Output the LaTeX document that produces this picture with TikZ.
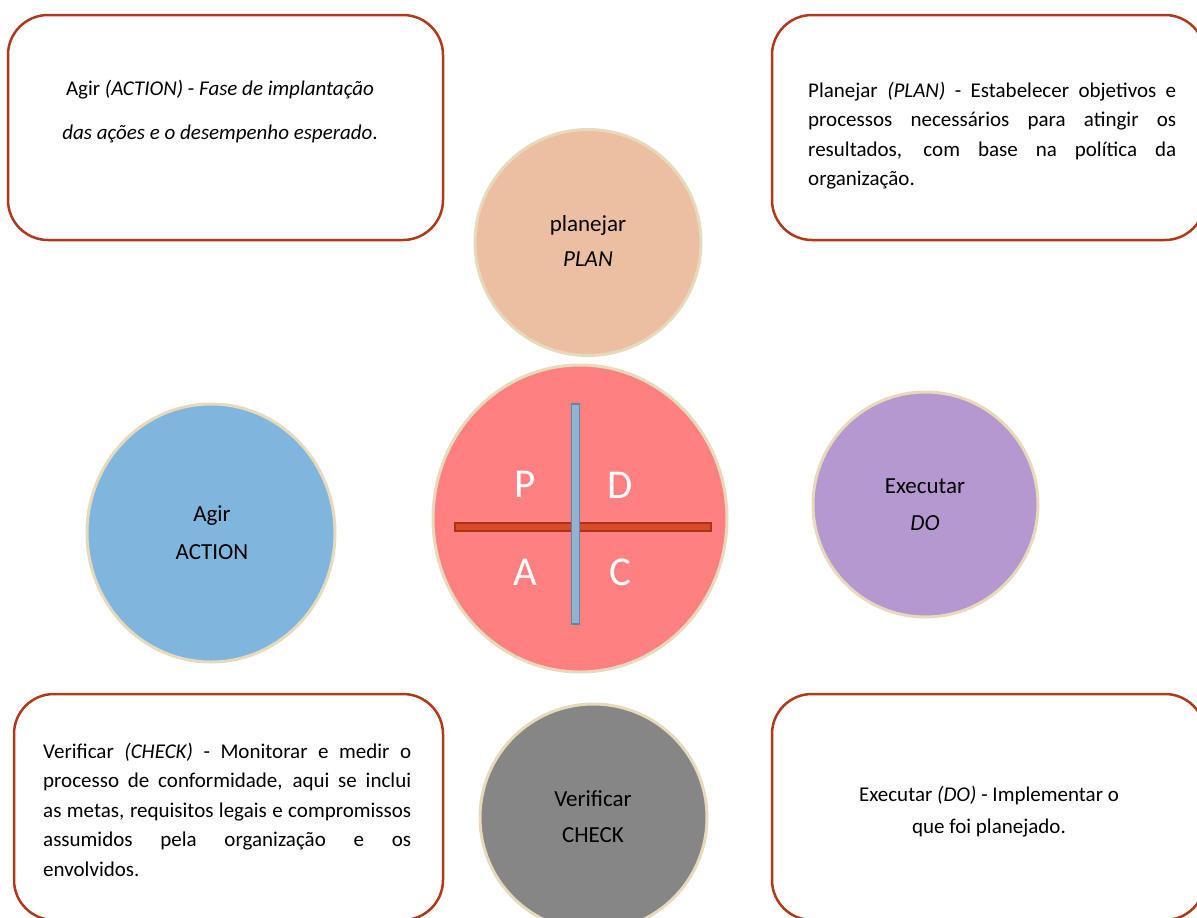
\documentclass[tikz,border=0pt]{standalone}
\usepackage{fontspec}
\setmainfont{Carlito}
\usetikzlibrary{shapes.geometric}
\definecolor{boxrust}{HTML}{B0391C}
\definecolor{ringbeige}{HTML}{E6D9BC}
\definecolor{peach}{HTML}{ECBFA3}
\definecolor{pdcared}{HTML}{FE8080}
\definecolor{dolilac}{HTML}{B598D0}
\definecolor{actblue}{HTML}{80B6DD}
\definecolor{chkgray}{HTML}{868686}
\definecolor{hbarfill}{HTML}{D94A2B}
\definecolor{hbardraw}{HTML}{A8341A}
\definecolor{vbarfill}{HTML}{8FB3D3}
\definecolor{vbardraw}{HTML}{6585A3}
\begin{document}
\hyphenpenalty=10000
\exhyphenpenalty=10000
\begin{tikzpicture}[x=1pt,y=-1pt,
  note/.style={draw=boxrust, line width=2.5pt, rounded corners=40pt, fill=white},
  disc/.style={ellipse, draw=ringbeige, line width=3pt, inner sep=0pt},
  lbl/.style={font=\fontsize{23}{28}\selectfont, anchor=base, inner sep=0pt},
  big/.style={font=\fontsize{41}{50}\selectfont, text=white, anchor=base, inner sep=0pt},
  body/.style={anchor=base west, inner sep=0pt, font=\fontsize{21}{29.5}\selectfont},
  bar/.style={rectangle, inner sep=0pt, line width=1.5pt}
]
\useasboundingbox (0,0) rectangle (1197,918);
\clip (0,0) rectangle (1197,918);

% text boxes
\node[note, minimum width=435pt, minimum height=225pt] (boxact) at (225.5,127.5) {};
\node[note, minimum width=433pt, minimum height=225pt] (boxplan) at (988.5,127.5) {};
\node[note, minimum width=429pt, minimum height=226pt] (boxchk) at (228.5,807) {};
\node[note, minimum width=433pt, minimum height=226pt] (boxdo) at (988.5,807) {};

\node[anchor=base, inner sep=0pt, font=\fontsize{21}{44}\selectfont] (tact) at (220,95)
  {\parbox[t]{420pt}{\centering Agir \textit{(ACTION)} - \textit{Fase de implantação}\\ \textit{das ações e o desempenho esperado}.}};
\node[body] (tplan) at (808,97)
  {\parbox[t]{368pt}{Planejar \textit{(PLAN)} - Estabelecer objetivos e\linebreak processos necessários para atingir os\linebreak resultados, com base na política da\linebreak organização.}};
\node[body] (tchk) at (43,758)
  {\parbox[t]{368pt}{Verificar \textit{(CHECK)} - Monitorar e medir o\linebreak processo de conformidade, aqui se inclui\linebreak as metas, requisitos legais e compromissos\linebreak assumidos pela organização e os\linebreak envolvidos.}};
\node[anchor=base, inner sep=0pt, font=\fontsize{21}{31.6}\selectfont] (tdo) at (989,801.7)
  {\parbox[t]{400pt}{\centering Executar \textit{(DO)} - Implementar o\\ que foi planejado.}};

% circles
\node[disc, fill=peach, minimum width=226pt, minimum height=226pt] (plan) at (588,242.5) {};
\node[disc, fill=pdcared, minimum width=294pt, minimum height=307pt] (pdca) at (580,518.5) {};
\node[disc, fill=dolilac, minimum width=225pt, minimum height=225pt] (do) at (925.5,504.5) {};
\node[disc, fill=actblue, minimum width=248pt, minimum height=258pt] (act) at (211,533) {};
\node[disc, fill=chkgray, minimum width=227pt, minimum height=227pt] (chk) at (593.5,817.5) {};

% circle labels
\node[lbl] (l1) at (588,231.7) {planejar};
\node[lbl] (l2) at (588,266.7) {\textit{PLAN}};
\node[lbl] (l3) at (925,493) {Executar};
\node[lbl] (l4) at (925,530) {\textit{DO}};
\node[lbl] (l5) at (212,521.7) {Agir};
\node[lbl] (l6) at (212,559) {ACTION};
\node[lbl] (l7) at (593,806.7) {Verificar};
\node[lbl] (l8) at (593,842.7) {CHECK};

% cross bars
\node[bar, fill=hbarfill, draw=hbardraw, minimum width=256pt, minimum height=8pt] (hbar) at (583,526.8) {};
\node[bar, fill=vbarfill, draw=vbardraw, minimum width=7.6pt, minimum height=220pt] (vbar) at (575.5,514) {};

% PDCA letters
\node[big] (lp) at (525,497) {P};
\node[big] (ld) at (620,498) {D};
\node[big] (la) at (525,585) {A};
\node[big] (lc) at (620,585) {C};
\end{tikzpicture}
\end{document}
